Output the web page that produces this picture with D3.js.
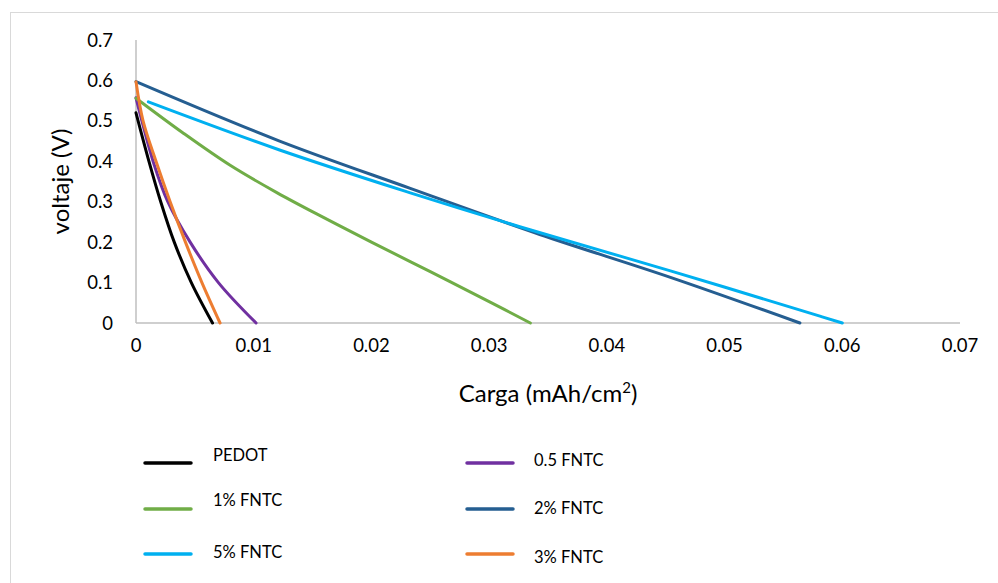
<!DOCTYPE html>
<html><head><meta charset="utf-8">
<script src="https://cdn.jsdelivr.net/npm/d3@7"></script>
<style>body{margin:0;background:#fff}svg{display:block}text{font-family:Lato,"Open Sans",sans-serif;fill:#000}</style>
</head><body><div id="chart"></div>
<script>
const seriesNames = ["PEDOT","0.5 FNTC","1% FNTC","2% FNTC","5% FNTC","3% FNTC"];
const seriesColors = ["#000000","#7030A0","#70AD47","#255E91","#00B0F0","#ED7D31"];
const pedotX = [0,0.0011,0.0021,0.00325,0.0047,0.0065];
const pedotY = [0.52,0.4,0.3,0.2,0.1,0];
const halfX = [0,0.0005,0.00145,0.0027,0.0046,0.0070,0.0102];
const halfY = [0.557,0.5,0.4,0.3,0.2,0.1,0];
const oneX = [0,0.004,0.008,0.012,0.016,0.020,0.025,0.030,0.0335];
const oneY = [0.556,0.47,0.39,0.322,0.26,0.2,0.127,0.053,0];
const twoX = [0,0.0122,0.0233,0.0343,0.0454,0.0564];
const twoY = [0.597,0.45,0.333,0.219,0.113,0];
const fiveX = [0.00105,0.0122,0.0233,0.0326,0.0454,0.0581,0.0600];
const fiveY = [0.547,0.428,0.322,0.238,0.129,0.017,0];
const threeX = [0,0.0006,0.0017,0.0029,0.0042,0.0056,0.00714];
const threeY = [0.597,0.5,0.4,0.3,0.2,0.1,0];
const xTicks = [0,0.01,0.02,0.03,0.04,0.05,0.06,0.07];
const yTicks = [0,0.1,0.2,0.3,0.4,0.5,0.6,0.7];
const xTitle = "Carga (mAh/cm", xTitleSup = "2", yTitle = "voltaje (V)";

const allX = [pedotX,halfX,oneX,twoX,fiveX,threeX];
const allY = [pedotY,halfY,oneY,twoY,fiveY,threeY];

const W=998,H=583;
const svg=d3.select("#chart").append("svg").attr("width",W).attr("height",H);
svg.append("rect").attr("x",10.5).attr("y",12.5).attr("width",1000).attr("height",600).attr("fill","none").attr("stroke","#D9D9D9").attr("stroke-width",1);

const x=d3.scaleLinear().domain([0,0.07]).range([136,960]);
const y=d3.scaleLinear().domain([0,0.7]).range([323,40]);

svg.append("line").attr("x1",x(0)).attr("x2",x(0.07)).attr("y1",y(0)).attr("y2",y(0)).attr("stroke","#BFBFBF").attr("stroke-width",1.5);
svg.append("line").attr("x1",x(0)).attr("x2",x(0)).attr("y1",y(0)).attr("y2",y(0.7)).attr("stroke","#BFBFBF").attr("stroke-width",1.5);

svg.selectAll(".xt").data(xTicks).enter().append("text").attr("x",d=>x(d)).attr("y",y(0)+29)
  .attr("text-anchor","middle").attr("font-size",18.5).text(d=>d===0?"0":d3.format(".2f")(d));
svg.selectAll(".yt").data(yTicks).enter().append("text").attr("x",113).attr("y",d=>y(d)+6.5)
  .attr("text-anchor","end").attr("font-size",18.5).text(d=>d===0?"0":d3.format(".1f")(d));

const xt=svg.append("text").attr("x",(x(0)+x(0.07))/2).attr("y",402).attr("text-anchor","middle").attr("font-size",24);
xt.append("tspan").text(xTitle);
xt.append("tspan").attr("font-size",15).attr("dy",-9).text(xTitleSup);
xt.append("tspan").attr("dy",9).text(")");
svg.append("text").attr("transform","translate(69,"+(y(0.35))+") rotate(-90)").attr("text-anchor","middle").attr("font-size",24).text(yTitle);

const line=d3.line().x(d=>x(d[0])).y(d=>y(d[1])).curve(d3.curveCatmullRom.alpha(0.5));
allX.forEach((xs,i)=>{
  const pts=xs.map((v,j)=>[v,allY[i][j]]);
  svg.append("path").attr("d",line(pts)).attr("fill","none").attr("stroke",seriesColors[i]).attr("stroke-width",3).attr("stroke-linecap","round");
});

const legPos=[[145,463,213,461],[467,463,534,466],[145,509,213,506],[467,509,534,514],[145,554,213,558],[467,554,534,563]];
seriesNames.forEach((n,i)=>{
  const p=legPos[i];
  svg.append("line").attr("x1",p[0]).attr("x2",p[0]+46).attr("y1",p[1]).attr("y2",p[1]).attr("stroke",seriesColors[i]).attr("stroke-width",3.5).attr("stroke-linecap","round");
  svg.append("text").attr("x",p[2]).attr("y",p[3]).attr("font-size",16.5).text(n);
});
</script></body></html>
